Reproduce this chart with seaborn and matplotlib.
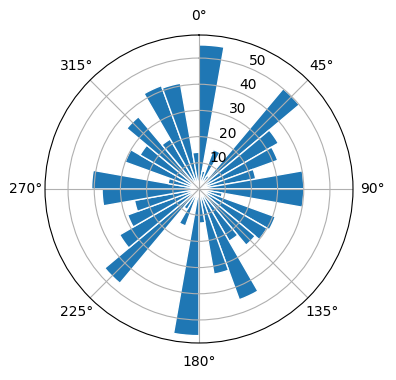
import numpy as np
import matplotlib
matplotlib.use("Agg")
import matplotlib.pyplot as plt
import seaborn as sns

# bin start angles (degrees, clockwise from north) and counts
bin_start_deg = [0, 10, 20, 30, 40, 50, 60, 70, 80, 90, 100, 110,
                 120, 130, 140, 150, 160, 170, 180, 190, 200, 210, 220, 230,
                 240, 250, 260, 270, 280, 290, 300, 310, 320, 330, 340, 350]
counts = [55, 7, 16, 6, 50, 35, 32, 22, 40, 40, 9, 31,
          30, 28, 23, 45, 33, 13, 56, 4, 15, 9, 47, 35,
          29, 25, 37, 41, 12, 30, 26, 36, 22, 42, 41, 14]
bin_width_deg = 10
r_ticks = [10, 20, 30, 40, 50]

color = sns.color_palette("tab10")[0]

fig = plt.figure(figsize=(3.96, 3.80), dpi=100)
ax = fig.add_axes([45 / 396, (380 - 189 - 154) / 380, 308 / 396, 308 / 380],
                  projection="polar")
ax.set_theta_zero_location("N")
ax.set_theta_direction(-1)
ax.bar(np.deg2rad(bin_start_deg), counts, width=np.deg2rad(bin_width_deg),
       align="edge", color=color, edgecolor="white", linewidth=1)
ax.set_rticks(r_ticks)
fig.savefig("out.png", dpi=100)
